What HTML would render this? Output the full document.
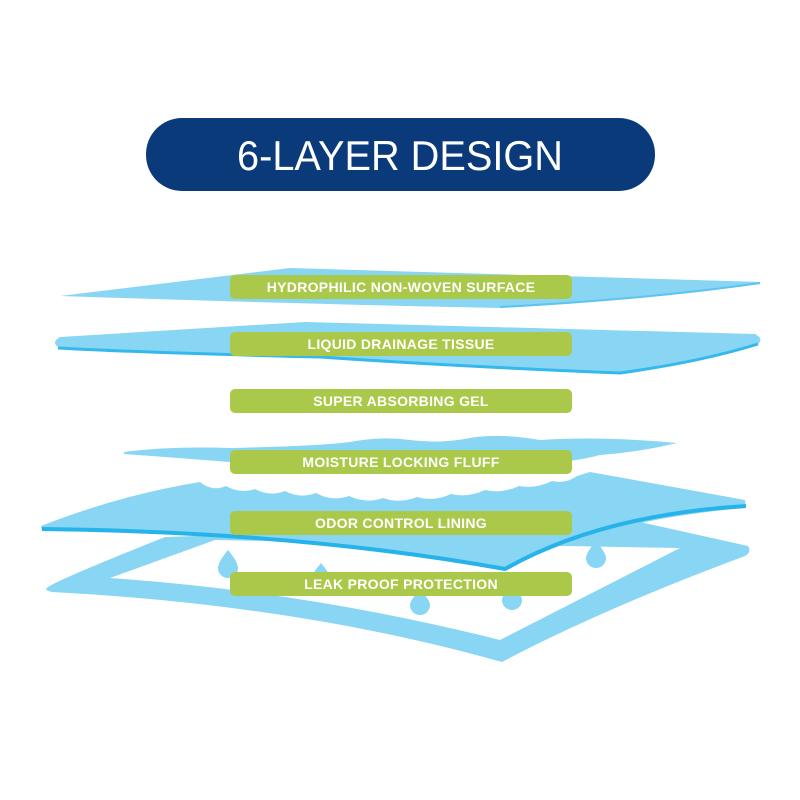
<!DOCTYPE html>
<html><head><meta charset="utf-8"><style>
html,body{margin:0;padding:0;background:#fff;width:800px;height:800px;overflow:hidden}
svg{display:block}
</style></head><body>
<svg width="800" height="800" viewBox="0 0 800 800" xmlns="http://www.w3.org/2000/svg">
<rect width="800" height="800" fill="#fff"/>
<rect x="146" y="118" width="509" height="73" rx="36" fill="#0b3a7a"/>
<text x="400" y="170" text-anchor="middle" font-family="Liberation Sans, sans-serif" font-size="42" fill="#fff" textLength="326" lengthAdjust="spacingAndGlyphs">6-LAYER DESIGN</text>

<path fill-rule="evenodd" fill="#88d5f4" d="M47,588 Q50,583 165,537 L640,522 L748,546 Q752,552 745,556 Q600,610 502,662 Q300,605 52,592 Q44,590 47,588 Z M110,578 L215,540 L680,548 L500,640 Q310,592 110,578 Z"/>

<path fill="#88d5f4" d="M41,526 Q120,495 200,482 Q212,492 226,486 Q240,494 255,489 Q270,497 285,491 Q300,499 316,493 Q332,502 349,496 Q366,504 383,498 Q400,504 417,497 Q434,502 451,494 Q468,498 485,490 Q502,494 519,486 Q536,489 552,481 Q566,484 577,476 L590,472 L745,500 L746,508 Q600,520 505,570 Q300,530 42,531 Z"/>
<path fill="none" stroke="#25b3ea" stroke-width="4" d="M42,529 Q300,532 505,569 Q600,515 746,506"/>

<path fill="#88d5f4" d="M124,452 Q170,446 230,448 Q320,446 350,442 Q380,436 410,440 Q440,444 470,438 Q500,433 540,440 Q600,436 677,443 Q640,452 600,455 Q560,466 500,462 Q430,470 380,466 Q300,470 230,462 Q180,458 124,454 Z"/>

<g fill="#88d5f4">
<path d="M228,550 Q218,562 218,568 A10,10 0 0 0 238,568 Q238,562 228,550Z"/>
<path d="M321,563 Q311,575 311,580 A10,10 0 0 0 331,580 Q331,575 321,563Z"/>
<path d="M596,541 Q586,553 586,558 A10,10 0 0 0 606,558 Q606,553 596,541Z"/>
<path d="M420,590 Q410,600 410,605 A10,10 0 0 0 430,605 Q430,600 420,590Z"/>
<path d="M512,585 Q502,595 502,600 A10,10 0 0 0 522,600 Q522,595 512,585Z"/>
</g>

<path fill="#88d5f4" d="M60,296 L290,268 L762,282 Q650,300 500,308 Q300,304 60,296Z"/>
<path fill="none" stroke="#5cc5ef" stroke-width="2" d="M500,307 Q650,299 760,283"/>
<path fill="#88d5f4" d="M60,337 L305,322 L755,334 Q766,340 755,346 Q680,365 620,372 Q450,365 320,356 Q150,352 60,348 Q50,343 60,337Z"/>
<path fill="none" stroke="#35b8ec" stroke-width="3" d="M58,348 Q150,353 320,357 Q450,366 620,373 Q700,362 758,344"/>

<g fill="#aac94a">
<rect x="230" y="275" width="342" height="24" rx="5"/>
<rect x="230" y="332" width="342" height="24" rx="5"/>
<rect x="230" y="389" width="342" height="24" rx="5"/>
<rect x="230" y="450" width="342" height="24" rx="5"/>
<rect x="230" y="511" width="342" height="24" rx="5"/>
<rect x="230" y="572" width="342" height="24" rx="5"/>
</g>
<g fill="#fff" font-family="Liberation Sans, sans-serif" font-weight="bold" font-size="14" text-anchor="middle" letter-spacing="0.3">
<text x="401" y="292">HYDROPHILIC NON-WOVEN SURFACE</text>
<text x="401" y="349">LIQUID DRAINAGE TISSUE</text>
<text x="401" y="406">SUPER ABSORBING GEL</text>
<text x="401" y="467">MOISTURE LOCKING FLUFF</text>
<text x="401" y="528">ODOR CONTROL LINING</text>
<text x="401" y="589">LEAK PROOF PROTECTION</text>
</g>
</svg>
</body></html>
